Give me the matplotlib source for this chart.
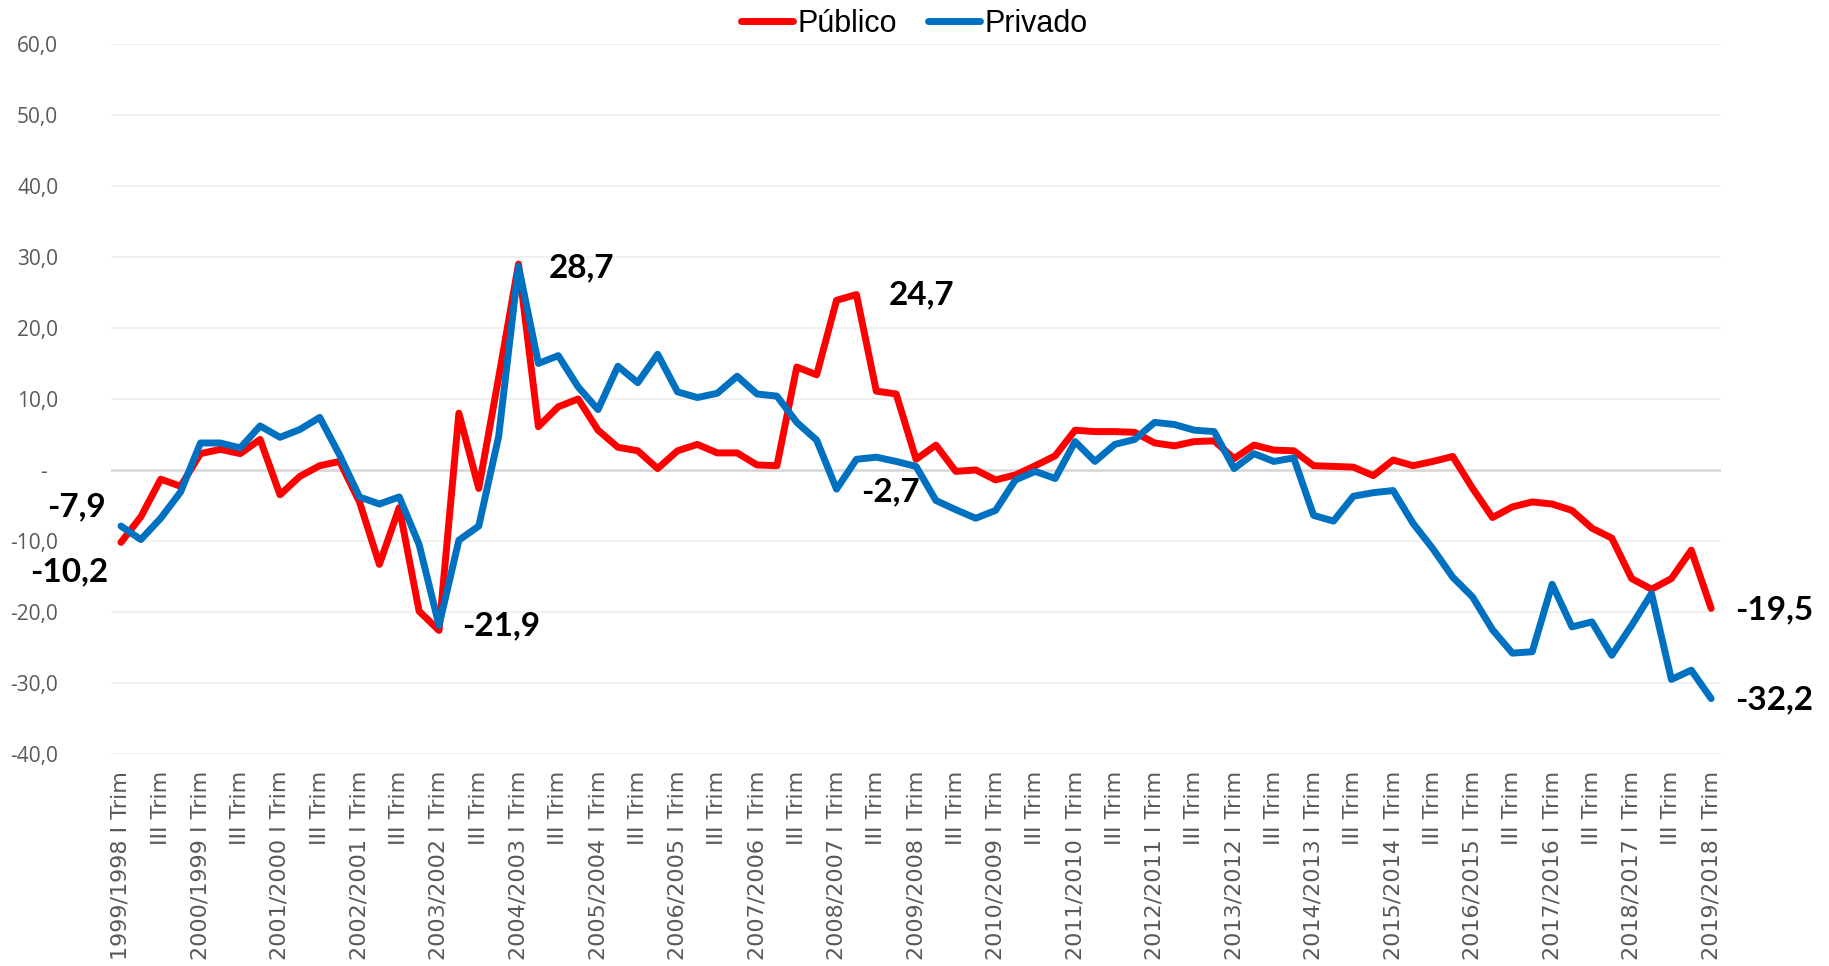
import matplotlib
matplotlib.use("Agg")
import matplotlib.pyplot as plt
import numpy as np

years = list(range(1999, 2020))
quarters = ["I", "II", "III", "IV"]

publico = [-10.2, -6.6, -1.3, -2.3, 2.3, 2.9, 2.3, 4.3, -3.5, -0.9,
           0.6, 1.2, -4.5, -13.3, -5.3, -19.9, -22.6, 8.0, -2.6, 13.0,
           29.0, 6.1, 8.9, 10.0, 5.6, 3.2, 2.7, 0.2, 2.7, 3.6,
           2.4, 2.4, 0.7, 0.6, 14.5, 13.4, 23.9, 24.7, 11.1, 10.7,
           1.5, 3.5, -0.2, 0.0, -1.4, -0.7, 0.6, 2.0, 5.6, 5.4,
           5.4, 5.3, 3.8, 3.4, 4.0, 4.1, 1.6, 3.5, 2.8, 2.7,
           0.6, 0.5, 0.4, -0.8, 1.4, 0.6, 1.2, 1.9, -2.6, -6.7,
           -5.2, -4.5, -4.8, -5.7, -8.2, -9.6, -15.3, -16.8, -15.3, -11.3,
           -19.5]
privado = [-7.9, -9.8, -6.8, -3.1, 3.8, 3.8, 3.1, 6.2, 4.6, 5.7,
           7.4, 2.1, -3.8, -4.8, -3.8, -10.5, -21.9, -9.9, -7.9, 4.7,
           28.7, 15.0, 16.1, 11.7, 8.5, 14.6, 12.3, 16.3, 11.0, 10.2,
           10.8, 13.2, 10.7, 10.4, 6.7, 4.2, -2.7, 1.5, 1.8, 1.2,
           0.5, -4.3, -5.6, -6.8, -5.7, -1.4, -0.2, -1.2, 4.0, 1.2,
           3.6, 4.3, 6.7, 6.4, 5.6, 5.4, 0.2, 2.3, 1.2, 1.7,
           -6.4, -7.2, -3.7, -3.2, -2.9, -7.5, -11.1, -15.1, -17.9, -22.5,
           -25.8, -25.6, -16.1, -22.1, -21.4, -26.1, -21.9, -17.4, -29.5, -28.2,
           -32.2]

n = len(publico)
categories = []
for i in range(n):
    y = years[i // 4]
    q = quarters[i % 4]
    categories.append(f"{y}/{y-1} {q} Trim")
tick_labels = []
for i in range(0, n, 2):
    tick_labels.append(categories[i] if i % 4 == 0 else "III Trim")

yticks = [-40, -30, -20, -10, 0, 10, 20, 30, 40, 50, 60]
ytick_labels = ["-  " if v == 0 else f"{v:.1f}".replace(".", ",") for v in yticks]

# annotations: (series, index, text, dx_pt, dy_pt, ha)
annots = [("priv", 0, "-7,9", -11, 14, "right"),
          ("pub", 0, "-10,2", -9, -21, "right"),
          ("priv", 16, "-21,9", 17, 0, "left"),
          ("priv", 20, "28,7", 22, -1, "left"),
          ("pub", 37, "24,7", 23, 0, "left"),
          ("priv", 36, "-2,7", 18, -2, "left"),
          ("pub", 80, "-19,5", 17, -1, "left"),
          ("priv", 80, "-32,2", 17, -1, "left")]

fig = plt.figure(figsize=(18.29, 9.66), dpi=100)
ax = fig.add_axes([0.0607, 0.2195, 0.8803, 0.735])

x = np.arange(n)
ax.plot(x, publico, color="#FF0000", lw=5, solid_joinstyle="round", solid_capstyle="round",
        label="Público", zorder=3)
ax.plot(x, privado, color="#0070C0", lw=5, solid_joinstyle="round", solid_capstyle="round",
        label="Privado", zorder=3)

ax.set_xlim(-0.5, n - 0.5)
ax.set_ylim(-40, 60)
ax.set_yticks(yticks)
ax.set_yticklabels(ytick_labels, fontsize=15, color="#595959", family="Open Sans")
for v in yticks:
    ax.axhline(v, color="#d9d9d9" if v == 0 else "#f0f0f0", lw=2 if v == 0 else 1.5, zorder=1)
ax.set_xticks(np.arange(0, n, 2))
ax.set_xticklabels(tick_labels, rotation=90, fontsize=16, color="#595959",
                   family="DejaVu Sans", va="top", ha="center")
ax.tick_params(axis="both", length=0)
ax.tick_params(axis="x", pad=12)
ax.tick_params(axis="y", pad=38)
for s in ax.spines.values():
    s.set_visible(False)

for ser, idx, txt, dx, dy, ha in annots:
    yv = privado[idx] if ser == "priv" else publico[idx]
    ax.annotate(txt, (idx, yv), xytext=(dx, dy), textcoords="offset points",
                ha=ha, va="center", fontsize=24, fontweight="bold",
                family="Lato", color="black", zorder=5, annotation_clip=False)

leg = fig.legend(loc="center", bbox_to_anchor=(0.5, 0.975), ncol=2, frameon=False,
                 prop={"family": "Liberation Sans", "size": 22},
                 handlelength=1.7, handletextpad=0.15, columnspacing=1.0)

fig.savefig("out.png", dpi=100)
